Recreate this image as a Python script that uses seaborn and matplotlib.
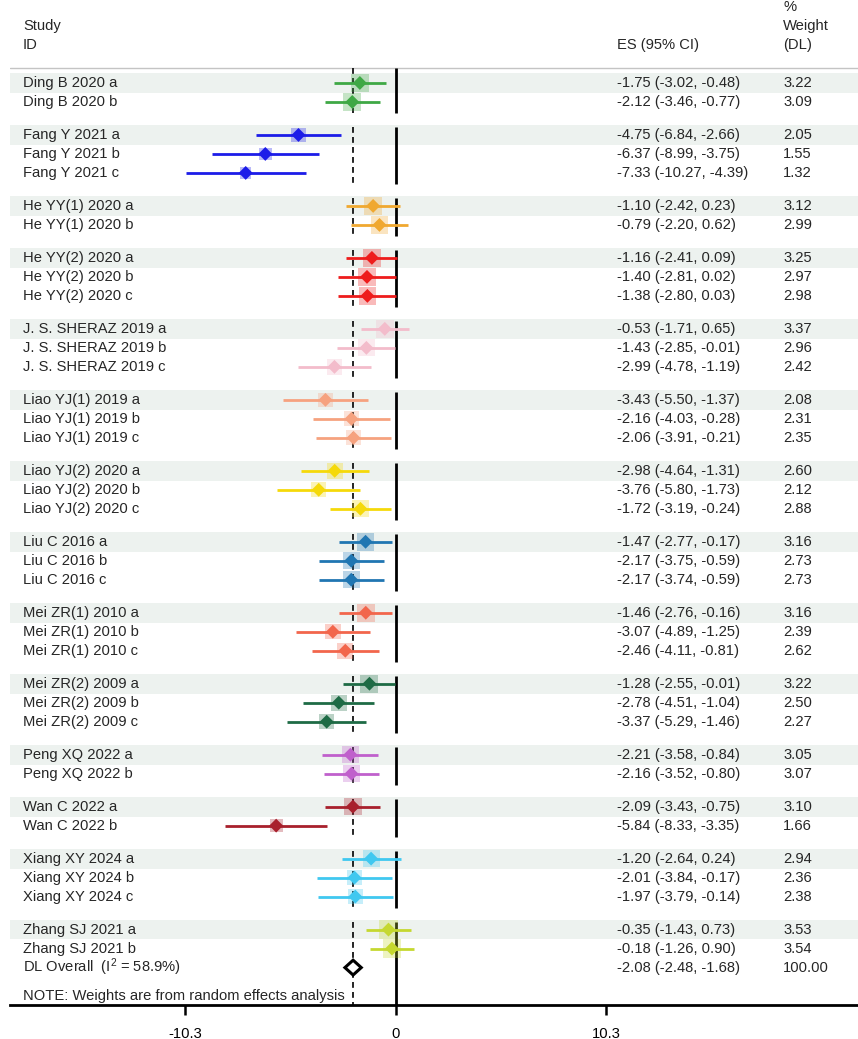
import numpy as np
import pandas as pd
import seaborn as sns
import matplotlib.pyplot as plt
from matplotlib.transforms import blended_transform_factory

# ---- data ----
labels = [
    "Ding B 2020 a", "Ding B 2020 b",
    "Fang Y 2021 a", "Fang Y 2021 b", "Fang Y 2021 c",
    "He YY(1) 2020 a", "He YY(1) 2020 b",
    "He YY(2) 2020 a", "He YY(2) 2020 b", "He YY(2) 2020 c",
    "J. S. SHERAZ 2019 a", "J. S. SHERAZ 2019 b", "J. S. SHERAZ 2019 c",
    "Liao YJ(1) 2019 a", "Liao YJ(1) 2019 b", "Liao YJ(1) 2019 c",
    "Liao YJ(2) 2020 a", "Liao YJ(2) 2020 b", "Liao YJ(2) 2020 c",
    "Liu C 2016 a", "Liu C 2016 b", "Liu C 2016 c",
    "Mei ZR(1) 2010 a", "Mei ZR(1) 2010 b", "Mei ZR(1) 2010 c",
    "Mei ZR(2) 2009 a", "Mei ZR(2) 2009 b", "Mei ZR(2) 2009 c",
    "Peng XQ 2022 a", "Peng XQ 2022 b",
    "Wan C 2022 a", "Wan C 2022 b",
    "Xiang XY 2024 a", "Xiang XY 2024 b", "Xiang XY 2024 c",
    "Zhang SJ 2021 a", "Zhang SJ 2021 b",
]
groups = [
    "Ding", "Ding", "Fang", "Fang", "Fang", "He1", "He1", "He2", "He2", "He2",
    "JS", "JS", "JS", "Liao1", "Liao1", "Liao1", "Liao2", "Liao2", "Liao2",
    "Liu", "Liu", "Liu", "Mei1", "Mei1", "Mei1", "Mei2", "Mei2", "Mei2",
    "Peng", "Peng", "Wan", "Wan", "Xiang", "Xiang", "Xiang", "Zhang", "Zhang",
]
es = [-1.75, -2.12, -4.75, -6.37, -7.33, -1.10, -0.79, -1.16, -1.40, -1.38,
      -0.53, -1.43, -2.99, -3.43, -2.16, -2.06, -2.98, -3.76, -1.72,
      -1.47, -2.17, -2.17, -1.46, -3.07, -2.46, -1.28, -2.78, -3.37,
      -2.21, -2.16, -2.09, -5.84, -1.20, -2.01, -1.97, -0.35, -0.18]
lo = [-3.02, -3.46, -6.84, -8.99, -10.27, -2.42, -2.20, -2.41, -2.81, -2.80,
      -1.71, -2.85, -4.78, -5.50, -4.03, -3.91, -4.64, -5.80, -3.19,
      -2.77, -3.75, -3.74, -2.76, -4.89, -4.11, -2.55, -4.51, -5.29,
      -3.58, -3.52, -3.43, -8.33, -2.64, -3.84, -3.79, -1.43, -1.26]
hi = [-0.48, -0.77, -2.66, -3.75, -4.39, 0.23, 0.62, 0.09, 0.02, 0.03,
      0.65, -0.01, -1.19, -1.37, -0.28, -0.21, -1.31, -1.73, -0.24,
      -0.17, -0.59, -0.59, -0.16, -1.25, -0.81, -0.01, -1.04, -1.46,
      -0.84, -0.80, -0.75, -3.35, 0.24, -0.17, -0.14, 0.73, 0.90]
weight = [3.22, 3.09, 2.05, 1.55, 1.32, 3.12, 2.99, 3.25, 2.97, 2.98,
          3.37, 2.96, 2.42, 2.08, 2.31, 2.35, 2.60, 2.12, 2.88,
          3.16, 2.73, 2.73, 3.16, 2.39, 2.62, 3.22, 2.50, 2.27,
          3.05, 3.07, 3.10, 1.66, 2.94, 2.36, 2.38, 3.53, 3.54]

group_names = ["Ding", "Fang", "He1", "He2", "JS", "Liao1", "Liao2",
               "Liu", "Mei1", "Mei2", "Peng", "Wan", "Xiang", "Zhang"]
group_colors = ["#3fa845", "#1c1ce8", "#f0a830", "#ee1c1c", "#f3bccb",
                "#f6a27f", "#f5d90a", "#2076b2", "#f2664c", "#1e6b45",
                "#c060cc", "#a8202c", "#40c8f0", "#c5d830"]

overall_es, overall_lo, overall_hi = -2.08, -2.48, -1.68
overall_weight = 100.00
overall_i2 = 58.9
xticks = [-10.3, 0, 10.3]

# ---- layout (rows) ----
GAP = 33 / 19
ypos = []
y = 0.0
for i, g in enumerate(groups):
    if i > 0:
        y += 1.0 if g == groups[i - 1] else GAP
    ypos.append(y)
overall_row = ypos[-1] + 1.0
note_row = overall_row + 1.5
bottom_row = overall_row + 1.97
header_row = -0.79

df = pd.DataFrame({"label": labels, "group": groups, "es": es, "lo": lo,
                   "hi": hi, "weight": weight, "y": ypos})
palette = dict(zip(group_names, group_colors))

sns.set_theme(style="white")
plt.rcParams["font.family"] = ["Liberation Sans", "DejaVu Sans"]
plt.rcParams["mathtext.fontset"] = "custom"
plt.rcParams["mathtext.rm"] = "Liberation Sans"
plt.rcParams["mathtext.it"] = "Liberation Sans:italic"
FS = 10.6

fig = plt.figure(figsize=(8.58, 10.39), dpi=100)
ax = fig.add_axes([10 / 858, (1039 - 1005) / 1039, 848 / 858, 1005 / 1039])
ax.set_xlim(-18.85, 22.6)
ax.set_ylim(bottom_row, -83 / 19)

# shaded band on first row of each group
for i, g in enumerate(groups):
    if i == 0 or g != groups[i - 1]:
        ax.axhspan(ypos[i] - 0.52, ypos[i] + 0.52, color="#edf2ef", lw=0, zorder=0)

ax.axhline(header_row, color="#c4c4c4", lw=1.0, zorder=1)

# reference lines, drawn per group
for j, g in enumerate(group_names):
    rows = df.loc[df["group"] == g, "y"]
    top = header_row if j == 0 else rows.min() - 0.4
    bot = bottom_row if j == len(group_names) - 1 else rows.max() + 0.6
    ax.vlines(0, top, bot, color="black", lw=2.0, zorder=1)
    ax.vlines(overall_es, top, bot, color="black", lw=1.2,
              linestyles=(0, (3.5, 2.5)), zorder=1)

# confidence intervals
ax.hlines(df["y"], df["lo"], df["hi"], colors=[palette[g] for g in groups],
          lw=2.0, zorder=2)

# weight squares and point estimates
sns.scatterplot(data=df, x="es", y="y", hue="group", palette=palette,
                size="weight", sizes=(0, 208), size_norm=(0, 4), marker="s",
                alpha=0.3, linewidth=0, legend=False, ax=ax, zorder=3)
sns.scatterplot(data=df, x="es", y="y", hue="group", palette=palette,
                marker="D", s=50, linewidth=0, legend=False, ax=ax, zorder=4)

# overall diamond
h = 0.39
ax.fill([overall_lo, overall_es, overall_hi, overall_es],
        [overall_row, overall_row - h, overall_row, overall_row + h],
        facecolor="white", edgecolor="black", lw=2.2, zorder=5)

# text columns
tr = blended_transform_factory(ax.transAxes, ax.transData)
x_lab, x_es, x_w = 13 / 848, 607 / 848, 773 / 848
ax.text(x_lab, -3, "Study", transform=tr, fontsize=FS, va="center")
ax.text(x_lab, -2, "ID", transform=tr, fontsize=FS, va="center")
ax.text(x_es, -2, "ES (95% CI)", transform=tr, fontsize=FS, va="center")
ax.text(x_w, -4, "%", transform=tr, fontsize=FS, va="center")
ax.text(x_w, -3, "Weight", transform=tr, fontsize=FS, va="center")
ax.text(x_w, -2, "(DL)", transform=tr, fontsize=FS, va="center")

for _, r in df.iterrows():
    ax.text(x_lab, r["y"], r["label"], transform=tr, fontsize=FS, va="center")
    ax.text(x_es, r["y"], f"{r['es']:.2f} ({r['lo']:.2f}, {r['hi']:.2f})",
            transform=tr, fontsize=FS, va="center")
    ax.text(x_w, r["y"], f"{r['weight']:.2f}", transform=tr, fontsize=FS, va="center")

ax.text(x_lab, overall_row, f"DL Overall  (I$^{{2}}$ = {overall_i2:.1f}%)",
        transform=tr, fontsize=FS, va="center")
ax.text(x_es, overall_row, f"{overall_es:.2f} ({overall_lo:.2f}, {overall_hi:.2f})",
        transform=tr, fontsize=FS, va="center")
ax.text(x_w, overall_row, f"{overall_weight:.2f}", transform=tr, fontsize=FS, va="center")
ax.text(x_lab, note_row, "NOTE: Weights are from random effects analysis",
        transform=tr, fontsize=FS, va="center")

# axis
for s in ["top", "left", "right"]:
    ax.spines[s].set_visible(False)
ax.spines["bottom"].set_linewidth(2.0)
ax.spines["bottom"].set_color("black")
ax.set_xticks(xticks)
ax.set_xticklabels([f"{t:g}" for t in xticks])
ax.set_yticks([])
ax.tick_params(axis="x", direction="out", length=7.5, width=1.8, pad=8,
               labelsize=FS, colors="black", bottom=True)
ax.set_xlabel("")
ax.set_ylabel("")

fig.savefig("out.png", dpi=100)
